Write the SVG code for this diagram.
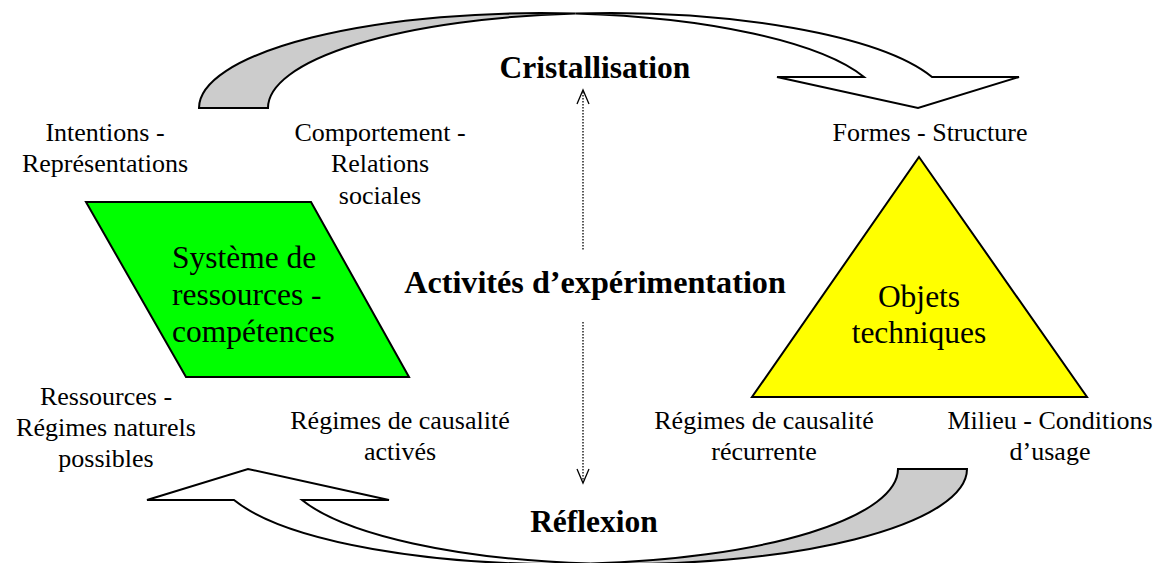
<svg xmlns="http://www.w3.org/2000/svg" width="1167" height="563" viewBox="0 0 1167 563">
<style>
.lbl{font-family:"Liberation Serif","Times New Roman",serif;font-size:26px;fill:#000;text-anchor:middle}
.node{font-family:"Liberation Serif","Times New Roman",serif;font-size:31.5px;fill:#000;text-anchor:middle}
.nodel{font-family:"Liberation Serif","Times New Roman",serif;font-size:31.5px;fill:#000;text-anchor:start}
.bold{font-family:"Liberation Serif","Times New Roman",serif;font-size:31.5px;font-weight:bold;fill:#000;text-anchor:middle}
.band{stroke:#000;stroke-width:2;stroke-linejoin:miter}
.dot{stroke:#000;stroke-width:1.3;stroke-dasharray:1.5 1.5;fill:none}
.head{stroke:#000;stroke-width:1.3;fill:none}
</style>
<defs>
<g id="curved">
<path class="band" fill="#cccccc" d="M199,108 A342,95 0 0 1 575.4,13.5 A342,95 0 0 0 268,108 Z"/>
<path class="band" fill="#ffffff" d="M575.4,13.5 A342,95 0 0 1 932,77 L1019,77 L918,108 L777,77 L864,77 A342,95 0 0 0 575.4,13.5 Z"/>
</g>
</defs>
<g id="connectors">
<g id="arrow-cristallisation"><use href="#curved"/></g>
<g id="arrow-reflexion"><use href="#curved" transform="rotate(180 583 288.5)"/></g>
<g id="dotted-up">
<line class="dot" x1="583" y1="92" x2="583" y2="250"/>
<polyline class="head" points="577,104 583,90 589,104"/>
</g>
<g id="dotted-down">
<line class="dot" x1="583" y1="322" x2="583" y2="481"/>
<polyline class="head" points="577,469 583,483 589,469"/>
</g>
</g>
<g id="node-systeme">
<polygon points="86,202 311,202 409,377 186,377" fill="#00ff00" stroke="#000" stroke-width="2"/>
<text class="nodel" x="172" y="268">Système de</text>
<text class="nodel" x="172" y="305">ressources -</text>
<text class="nodel" x="172" y="342">compétences</text>
</g>
<g id="node-objets">
<polygon points="919,157 1087,397 752,397" fill="#ffff00" stroke="#000" stroke-width="2"/>
<text class="node" x="919" y="307">Objets</text>
<text class="node" x="919" y="343">techniques</text>
</g>
<g id="labels">
<text class="bold" x="595" y="78">Cristallisation</text>
<text class="bold" x="595" y="293" style="font-size:32.2px">Activités d’expérimentation</text>
<text class="bold" x="594" y="532">Réflexion</text>
<text class="lbl" x="105" y="141">Intentions -</text>
<text class="lbl" x="105" y="172">Représentations</text>
<text class="lbl" x="380" y="141">Comportement -</text>
<text class="lbl" x="380" y="172">Relations</text>
<text class="lbl" x="380" y="204">sociales</text>
<text class="lbl" x="930" y="141">Formes - Structure</text>
<text class="lbl" x="106" y="405">Ressources -</text>
<text class="lbl" x="106" y="436">Régimes naturels</text>
<text class="lbl" x="106" y="467">possibles</text>
<text class="lbl" x="400" y="429">Régimes de causalité</text>
<text class="lbl" x="400" y="460">activés</text>
<text class="lbl" x="764" y="429">Régimes de causalité</text>
<text class="lbl" x="764" y="460">récurrente</text>
<text class="lbl" x="1050" y="429">Milieu - Conditions</text>
<text class="lbl" x="1050" y="460">d’usage</text>
</g>
</svg>
